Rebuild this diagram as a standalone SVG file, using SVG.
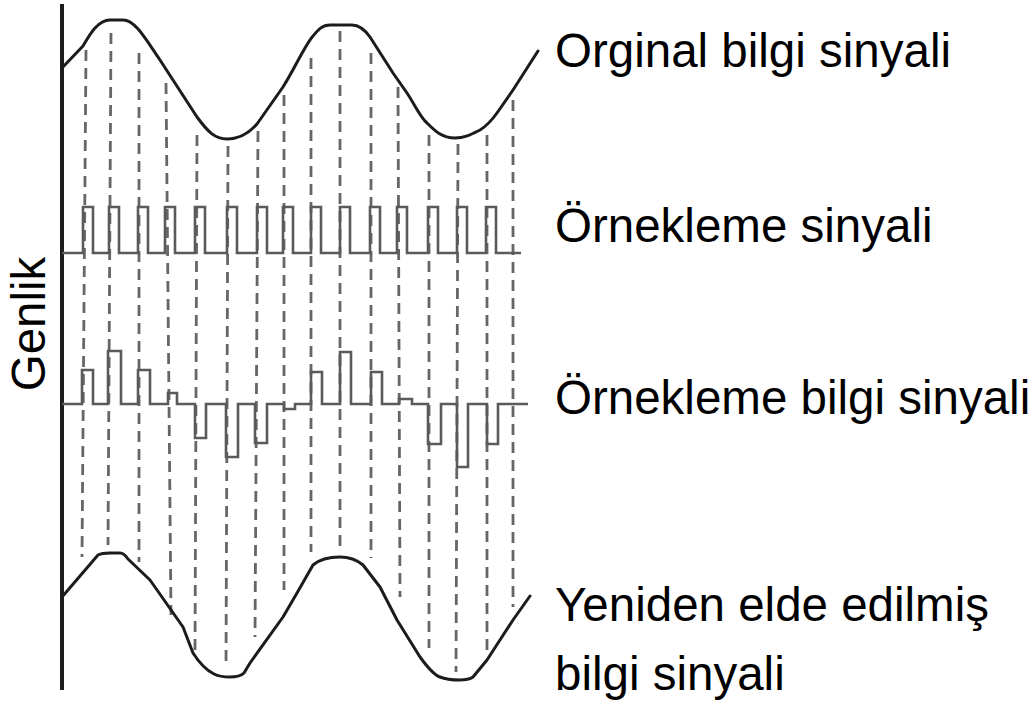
<svg xmlns="http://www.w3.org/2000/svg" width="1033" height="717" viewBox="0 0 1033 717">
<style>
.axis{stroke:#1e1e1e;stroke-width:4;fill:none}
.curve{stroke:#1c1c1c;stroke-width:3;fill:none;stroke-linejoin:round;stroke-linecap:round}
.pulse{stroke:#5a5a5a;stroke-width:2.6;fill:none;stroke-linejoin:miter}
.dash{stroke:#666;stroke-width:2.8;stroke-dasharray:11 7;fill:none}
.lbl{font-family:"Liberation Sans",Arial,sans-serif;font-size:47.5px;fill:#000}
</style>
<rect width="1033" height="717" fill="#fff"/>
<g id="connectors">
<line class="dash" x1="86" y1="50" x2="82" y2="557"/>
<line class="dash" x1="111" y1="33" x2="108" y2="545"/>
<line class="dash" x1="139" y1="53" x2="139" y2="562"/>
<line class="dash" x1="166" y1="83" x2="171" y2="615"/>
<line class="dash" x1="197" y1="135" x2="195" y2="653"/>
<line class="dash" x1="228" y1="146" x2="226" y2="667"/>
<line class="dash" x1="258" y1="131" x2="255" y2="637"/>
<line class="dash" x1="284" y1="95" x2="284" y2="590"/>
<line class="dash" x1="311" y1="58" x2="311" y2="552"/>
<line class="dash" x1="340" y1="31" x2="340" y2="552"/>
<line class="dash" x1="371" y1="53" x2="371" y2="558"/>
<line class="dash" x1="398" y1="87" x2="400" y2="597"/>
<line class="dash" x1="429" y1="135" x2="429" y2="648"/>
<line class="dash" x1="458" y1="144" x2="456" y2="672"/>
<line class="dash" x1="487" y1="135" x2="487" y2="652"/>
<line class="dash" x1="513" y1="100" x2="513" y2="607"/>
</g>
<g id="axis">
<line class="axis" x1="62" y1="4" x2="62" y2="690"/>
<text class="lbl" transform="translate(45,324) rotate(-90)" text-anchor="middle">Genlik</text>
</g>
<g id="original-signal">
<path class="curve" d="M62,68 L83,46 C90,34 98,20 110,20 L123,20 C135,20 145,38 160,60 L197,117 C208,132 215,139 227,139 C240,139 250,132 257,124 L283,87 C295,68 305,45 313,36 C318,30 322,25 330,25 L352,25 C360,25 365,30 370,37 L393,73 L407,93 C415,105 420,117 427,123 C435,131 442,138 455,138 C465,138 472,134 480,130 C488,125 492,120 497,113 L513,90 L538,51"/>
<text class="lbl" x="555" y="67">Orginal bilgi sinyali</text>
</g>
<g id="sampling-signal">
<path class="pulse" d="M62,253 H83 V207 H93 V253 H109 V207 H119 V253 H138 V207 H148 V253 H165 V207 H175 V253 H195 V207 H205 V253 H227 V207 H237 V253 H257 V207 H267 V253 H283 V207 H293 V253 H311 V207 H321 V253 H340 V207 H350 V253 H370 V207 H380 V253 H397 V207 H407 V253 H428 V207 H438 V253 H457 V207 H467 V253 H486 V207 H496 V253 H521"/>
<text class="lbl" x="555" y="242">Örnekleme sinyali</text>
</g>
<g id="sampled-info-signal">
<path class="pulse" d="M62,404 H82 V370 H93 V404 H108 V351 H121 V404 H138 V370 H150 V404 H168 V393 H177 V404 H195 V438 H206 V404 H226 V457 H238 V404 H255 V443 H267 V404 H284 V409 H295 V404 H311 V372 H322 V404 H340 V352 H351 V404 H371 V372 H382 V404 H399 V399 H412 V404 H428 V444 H441 V404 H457 V467 H468 V404 H487 V444 H498 V404 H528"/>
<text class="lbl" x="555" y="414">Örnekleme bilgi sinyali</text>
</g>
<g id="reconstructed-signal">
<path class="curve" d="M62,597 L98,555 C102,553 105,553 110,553 L120,553 C123,553 126,556 128,559 L150,580 L183,627 L193,653 C200,664 206,670 214,674 C220,677 224,677 230,677 C237,677 241,676 244,673 L250,663 L283,617 L297,593 L313,565 C320,559 328,557 340,557 C350,557 357,560 363,565 L380,587 L397,620 L420,657 C428,668 434,675 440,677 C447,680 452,680 460,680 C467,680 470,679 473,677 L487,660 L513,620 L530,596"/>
<text class="lbl" x="555" y="621">Yeniden elde edilmiş</text>
<text class="lbl" x="555" y="690">bilgi sinyali</text>
</g>
</svg>
